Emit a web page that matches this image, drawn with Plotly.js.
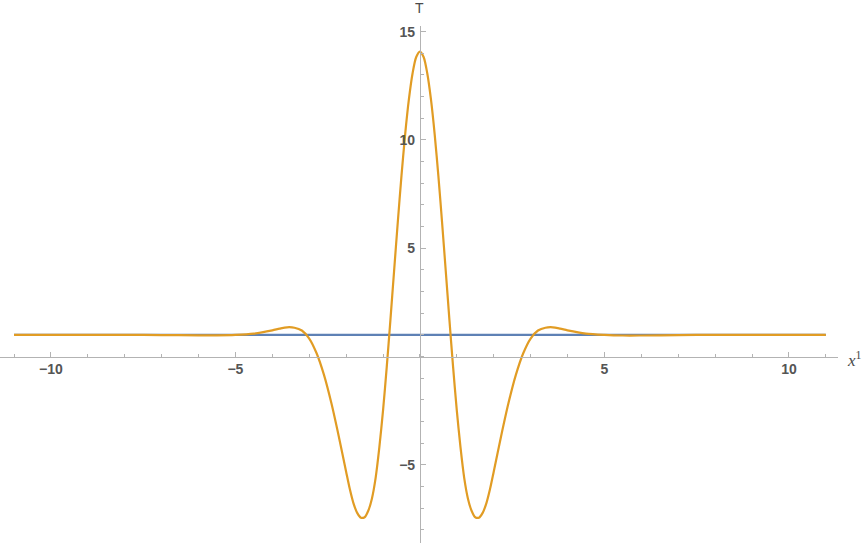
<!DOCTYPE html>
<html>
<head>
<meta charset="utf-8">
<script src="https://cdn.plot.ly/plotly-3.0.1.min.js"></script>
<style>
  html, body { margin: 0; padding: 0; background: #fff; }
  #plotArea { width: 868px; height: 547px; }
</style>
</head>
<body>
<div id="plotArea"></div>
<script>
// flat reference line
var baseX = [-11, 11];
var baseY = [1, 1];

// T(x^1)
var waveX = [-11, -10, -9, -8, -7, -6, -5.5, -5, -4.5, -4, -3.8, -3.6, -3.4, -3.2, -3, -2.8, -2.6, -2.4, -2.2, -2,
    -1.9, -1.8, -1.7, -1.6, -1.5, -1.4, -1.3, -1.2, -1.1, -1, -0.9, -0.8, -0.7, -0.6, -0.5, -0.4, -0.3, -0.2, -0.1,
    0, 0.1, 0.2, 0.3, 0.4, 0.5, 0.6, 0.7, 0.8, 0.9, 1, 1.1, 1.2, 1.3, 1.4, 1.5, 1.6, 1.7, 1.8, 1.9,
    2, 2.2, 2.4, 2.6, 2.8, 3, 3.2, 3.4, 3.6, 3.8, 4, 4.5, 5, 5.5, 6, 7, 8, 9, 10, 11];
var waveY = [1, 1, 1, 1, 0.99, 0.98, 0.98, 1.0, 1.06, 1.21, 1.29, 1.35, 1.33, 1.2, 0.83, 0.15, -0.85, -2.15, -3.68, -5.32,
    -6.12, -6.78, -7.22, -7.44, -7.42, -7.12, -6.55, -5.6, -4.2, -2.5, -0.5, 1.68, 3.95, 6.2, 8.34, 10.26, 11.86, 13.07, 13.83,
    14.08, 13.83, 13.07, 11.86, 10.26, 8.34, 6.2, 3.95, 1.68, -0.5, -2.5, -4.2, -5.6, -6.55, -7.12, -7.42, -7.44, -7.22, -6.78, -6.12,
    -5.32, -3.68, -2.15, -0.85, 0.15, 0.83, 1.2, 1.33, 1.35, 1.29, 1.21, 1.06, 1.0, 0.97, 0.97, 0.99, 1, 1, 1, 1];

var xTicks = [-10, -5, 5, 10];
var yTicks = [-5, 5, 10, 15];

var xRange = [-11.38, 11.33];
var yRange = [-8.61, 15.26];

var axisGray = "#b3b3b3";
var labelFont = {family: "Liberation Sans, Arial, sans-serif", size: 14, color: "#555555", weight: "bold"};

var data = [
  {x: baseX, y: baseY, mode: "lines", type: "scatter",
   line: {color: "#5E81B5", width: 2.2}, hoverinfo: "skip"},
  {x: waveX, y: waveY, mode: "lines", type: "scatter",
   line: {color: "#E19C24", width: 2.2, shape: "spline", smoothing: 0.8}, hoverinfo: "skip"}
];

var layout = {
  width: 868,
  height: 547,
  margin: {l: 0, r: 30, t: 26, b: 4},
  paper_bgcolor: "#ffffff",
  plot_bgcolor: "#ffffff",
  showlegend: false,
  xaxis: {
    range: xRange,
    anchor: "free",
    position: (0 - yRange[0]) / (yRange[1] - yRange[0]),
    showgrid: false,
    zeroline: false,
    showline: true,
    linecolor: axisGray,
    linewidth: 1,
    tickmode: "array",
    tickvals: xTicks,
    ticks: "inside",
    ticklen: 5,
    tickcolor: axisGray,
    tickfont: labelFont,
    minor: {dtick: 1, tick0: 0, ticks: "inside", ticklen: 3, tickcolor: axisGray, showgrid: false}
  },
  yaxis: {
    range: yRange,
    anchor: "free",
    position: (0 - xRange[0]) / (xRange[1] - xRange[0]),
    showgrid: false,
    zeroline: false,
    showline: true,
    linecolor: axisGray,
    linewidth: 1,
    tickmode: "array",
    tickvals: yTicks,
    ticks: "inside",
    ticklen: 5,
    tickcolor: axisGray,
    tickfont: labelFont,
    ticklabelstandoff: 2,
    minor: {dtick: 1, tick0: 0, ticks: "inside", ticklen: 3, tickcolor: axisGray, showgrid: false}
  },
  annotations: [
    {text: "T", xref: "x", x: 0, yref: "paper", y: 1, yanchor: "bottom", yshift: 8,
     showarrow: false, font: {family: "Liberation Sans, Arial, sans-serif", size: 14, color: "#4a4a4a"}},
    {text: "<i>x</i><sup>1</sup>", xref: "paper", x: 1, xanchor: "left", xshift: 7,
     yref: "y", y: 0, yanchor: "middle", yshift: -2,
     showarrow: false, font: {family: "Liberation Serif, Times New Roman, serif", size: 17, color: "#4a4a4a"}}
  ]
};

Plotly.newPlot("plotArea", data, layout, {staticPlot: true});
</script>
</body>
</html>
